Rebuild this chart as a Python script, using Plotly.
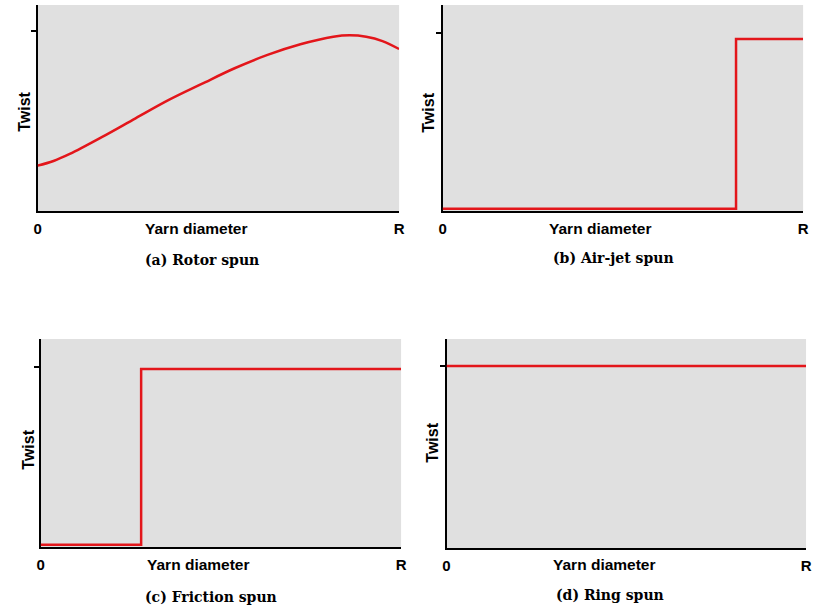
import plotly.graph_objects as go

# ---- data (x as fraction of yarn radius R, y as relative twist) ----
rotor_x = [0, 0.044, 0.089, 0.18, 0.271, 0.363, 0.454, 0.545, 0.636, 0.727, 0.818, 0.863, 0.909, 0.954, 1.0]
rotor_y = [0.252, 0.278, 0.317, 0.413, 0.515, 0.617, 0.706, 0.793, 0.867, 0.926, 0.968, 0.976, 0.968, 0.944, 0.9]

airjet_x = [0, 0.814, 0.814, 1.0]
airjet_y = [0.012, 0.012, 0.966, 0.966]

friction_x = [0, 0.279, 0.279, 1.0]
friction_y = [0.012, 0.012, 0.989, 0.989]

ring_x = [0, 1.0]
ring_y = [1.0, 1.0]

x_tick_vals = [0, 1]
x_tick_text = ["0", "R"]
y_title = "Twist"
x_title = "Yarn diameter"
captions = ["(a) Rotor spun", "(b) Air-jet spun", "(c) Friction spun", "(d) Ring spun"]

W, H = 817, 611

def px(x):
    return x / W

def py(y):
    return 1 - y / H

# panel pixel boxes: (left, right, top, bottom, tick_y)
panels = [
    (34, 400, 5, 211, 31),
    (444, 809, 5, 211, 33),
    (37, 402, 339, 547, 367),
    (448, 812, 339, 548, 366),
]
series = [(rotor_x, rotor_y, "spline"), (airjet_x, airjet_y, "linear"),
          (friction_x, friction_y, "linear"), (ring_x, ring_y, "linear")]
twist_pos = [(20, 112), (430, 113), (24, 450), (433, 443)]
yd_pos = [(195, 228), (604, 228), (197, 564), (608, 564)]
cap_pos = [(200, 260), (617, 258), (210, 597), (614, 595)]

RED = "#e3161b"
BG = "#e0e0e0"

fig = go.Figure()
layout = dict(width=W, height=H, margin=dict(l=0, r=0, t=0, b=0),
              paper_bgcolor="white", plot_bgcolor="white", showlegend=False)
shapes = []
annotations = []

for i, ((l, r, t, b, ty), (xs, ys, shp)) in enumerate(zip(panels, series)):
    n = "" if i == 0 else str(i + 1)
    xa = "x" + n
    ya = "y" + n
    fig.add_trace(go.Scatter(x=xs, y=ys, mode="lines",
                             line=dict(color=RED, width=2.5, shape=shp, smoothing=1.0),
                             xaxis=xa, yaxis=ya, hoverinfo="skip"))
    ytop = (b - t) / (b - ty)
    layout["xaxis" + n] = dict(domain=[px(l), px(r)], anchor=ya, range=[0, 1],
                               showgrid=False, zeroline=False, showline=True,
                               linecolor="black", linewidth=2, ticks="",
                               tickvals=x_tick_vals, ticktext=x_tick_text,
                               tickfont=dict(family="Liberation Sans", size=15, color="black", weight="bold"),
                               ticklabelstandoff=3, layer="below traces", fixedrange=True)
    layout["yaxis" + n] = dict(domain=[py(b), py(t)], anchor=xa, range=[0, ytop],
                               showgrid=False, zeroline=False, showline=True,
                               linecolor="black", linewidth=2, ticks="outside",
                               ticklen=5, tickwidth=1.5, tickcolor="black",
                               tickvals=[1], showticklabels=False,
                               layer="below traces", fixedrange=True)
    shapes.append(dict(type="rect", xref="paper", yref="paper",
                       x0=px(l), x1=px(r), y0=py(b), y1=py(t),
                       fillcolor=BG, line=dict(width=0), layer="below"))
    tx, tyy = twist_pos[i]
    annotations.append(dict(text="<b>%s</b>" % y_title, x=px(tx), y=py(tyy), xref="paper", yref="paper",
                            showarrow=False, textangle=-90, xanchor="center", yanchor="middle",
                            font=dict(family="Liberation Sans", size=16, color="black")))
    dx, dy = yd_pos[i]
    annotations.append(dict(text="<b>%s</b>" % x_title, x=px(dx), y=py(dy), xref="paper", yref="paper",
                            showarrow=False, xanchor="center", yanchor="middle",
                            font=dict(family="Liberation Sans", size=15.5, color="black")))
    cx, cy = cap_pos[i]
    annotations.append(dict(text="<b>%s</b>" % captions[i], x=px(cx), y=py(cy), xref="paper", yref="paper",
                            showarrow=False, xanchor="center", yanchor="middle",
                            font=dict(family="DejaVu Serif", size=14, color="black")))

layout["shapes"] = shapes
layout["annotations"] = annotations
fig.update_layout(**layout)
fig.write_html("out.html", config={"displayModeBar": False, "staticPlot": True},
               post_script="document.body.style.margin='0';document.body.style.overflow='hidden';")
